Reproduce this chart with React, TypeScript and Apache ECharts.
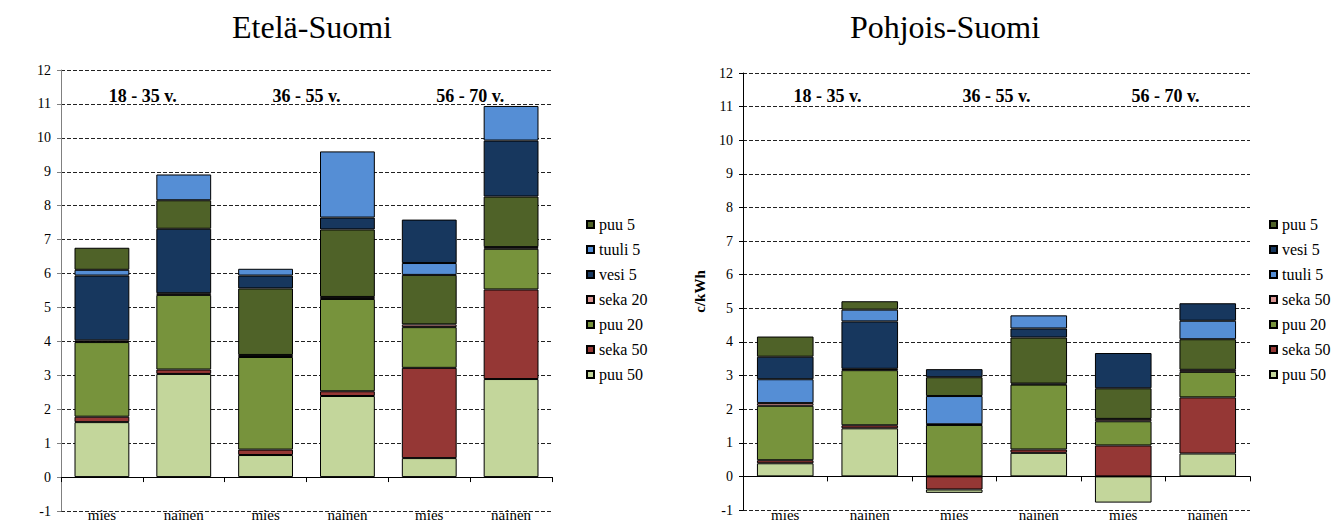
import React, { useEffect, useRef } from "react";
import * as echarts from "echarts";

const categories = ["mies", "nainen", "mies", "nainen", "mies", "nainen"];
const ageGroups = ["18 - 35 v.", "36 - 55 v.", "56 - 70 v."];
const titles = ["Etelä-Suomi", "Pohjois-Suomi"];
const yAxisTitles = ["", "c/kWh"];

const keys = ["puu 50", "seka 50", "puu 20", "seka 20", "vesi 5", "tuuli 5", "puu 5"];
const colors: Record<string, string> = {
  "puu 5": "#4F6228",
  "tuuli 5": "#558ED5",
  "vesi 5": "#17375E",
  "seka 20": "#DA9694",
  "puu 20": "#77933C",
  "seka 50": "#953735",
  "puu 50": "#C3D69B",
};

// Etelä-Suomi values (c/kWh)
const southPuu50 = [1.62, 3.04, 0.65, 2.39, 0.56, 2.89];
const southSeka50 = [0.16, 0.13, 0.16, 0.14, 2.66, 2.64];
const southPuu20 = [2.2, 2.2, 2.73, 2.72, 1.2, 1.2];
const southSeka20 = [0.05, 0.05, 0.06, 0.06, 0.08, 0.05];
const southVesi5 = [1.91, 1.9, 0.38, 0.35, 1.28, 1.65];
const southTuuli5 = [0.17, 0.76, 0.2, 1.95, 0.35, 1.02];
const southPuu5 = [0.65, 0.84, 1.96, 1.99, 1.46, 1.49];

// Pohjois-Suomi values (c/kWh)
const northPuu50 = [0.39, 1.43, -0.1, 0.7, -0.78, 0.68];
const northSeka50 = [0.09, 0.09, -0.39, 0.1, 0.92, 1.67];
const northPuu20 = [1.62, 1.64, 1.53, 1.93, 0.72, 0.76];
const northSeka20 = [0.08, 0.04, 0.02, 0.03, 0.07, 0.06];
const northTuuli5 = [0.71, 0.35, 0.84, 0.39, 0, 0.55];
const northVesi5 = [0.67, 1.41, 0.24, 0.27, 1.05, 0.52];
const northPuu5 = [0.6, 0.25, 0.56, 1.37, 0.91, 0.91];

// stacking order (bottom to top) of each bar
const southOrder = [
  ["puu 50", "seka 50", "puu 20", "seka 20", "vesi 5", "tuuli 5", "puu 5"],
  ["puu 50", "seka 50", "puu 20", "seka 20", "vesi 5", "puu 5", "tuuli 5"],
  ["puu 50", "seka 50", "puu 20", "seka 20", "puu 5", "vesi 5", "tuuli 5"],
  ["puu 50", "seka 50", "puu 20", "seka 20", "puu 5", "vesi 5", "tuuli 5"],
  ["puu 50", "seka 50", "puu 20", "seka 20", "puu 5", "tuuli 5", "vesi 5"],
  ["puu 50", "seka 50", "puu 20", "seka 20", "puu 5", "vesi 5", "tuuli 5"],
];
const northOrder = [
  ["puu 50", "seka 50", "puu 20", "seka 20", "tuuli 5", "vesi 5", "puu 5"],
  ["puu 50", "seka 50", "puu 20", "seka 20", "vesi 5", "tuuli 5", "puu 5"],
  ["seka 50", "puu 50", "puu 20", "seka 20", "tuuli 5", "puu 5", "vesi 5"],
  ["puu 50", "seka 50", "puu 20", "seka 20", "puu 5", "vesi 5", "tuuli 5"],
  ["puu 50", "seka 50", "puu 20", "seka 20", "puu 5", "vesi 5"],
  ["puu 50", "seka 50", "puu 20", "seka 20", "puu 5", "tuuli 5", "vesi 5"],
];

const southLegend = ["puu 5", "tuuli 5", "vesi 5", "seka 20", "puu 20", "seka 50", "puu 50"];
const northLegend = ["puu 5", "vesi 5", "tuuli 5", "seka 20", "puu 20", "seka 50", "puu 50"];
const southLegendLabels: Record<string, string> = {
  "puu 5": "puu 5", "tuuli 5": "tuuli 5", "vesi 5": "vesi 5", "seka 20": "seka 20",
  "puu 20": "puu 20", "seka 50": "seka 50", "puu 50": "puu 50",
};
const northLegendLabels: Record<string, string> = {
  "puu 5": "puu 5", "tuuli 5": "tuuli 5", "vesi 5": "vesi 5", "seka 20": "seka 50",
  "puu 20": "puu 20", "seka 50": "seka 50", "puu 50": "puu 50",
};

const FONT = "Liberation Serif";

function buildSeries(values: Record<string, number[]>, order: string[][], idx: number) {
  const out: any[] = [];
  for (let layer = 0; layer < 7; layer++) {
    for (const key of keys) {
      const data = categories.map((_, i) =>
        order[i][layer] === key ? values[key][i] : "-"
      );
      if (data.every((d) => d === "-")) continue;
      out.push({
        type: "bar",
        name: key,
        stack: "s" + idx,
        xAxisIndex: idx,
        yAxisIndex: idx,
        barCategoryGap: "33%",
        data,
        itemStyle: { color: colors[key], borderColor: "#000", borderWidth: 1 },
        emphasis: { disabled: true },
      });
    }
  }
  return out;
}

export default function App() {
  const ref = useRef<HTMLDivElement>(null);
  useEffect(() => {
    if (!ref.current) return;
    const chart = echarts.init(ref.current, undefined, { renderer: "svg" });
    const southValues: Record<string, number[]> = {
      "puu 50": southPuu50, "seka 50": southSeka50, "puu 20": southPuu20, "seka 20": southSeka20,
      "vesi 5": southVesi5, "tuuli 5": southTuuli5, "puu 5": southPuu5,
    };
    const northValues: Record<string, number[]> = {
      "puu 50": northPuu50, "seka 50": northSeka50, "puu 20": northPuu20, "seka 20": northSeka20,
      "vesi 5": northVesi5, "tuuli 5": northTuuli5, "puu 5": northPuu5,
    };
    const grids = [
      { left: 61, top: 70, width: 491, height: 441, containLabel: false, outerBoundsMode: "none" },
      { left: 743, top: 73, width: 507, height: 437, containLabel: false, outerBoundsMode: "none" },
    ];
    const titleCenters = [312, 945];
    const axisLineColors = ["#808080", "#000"];
    const groupMargins = [17, 14];
    const labelMargins = [-4, -3];
    const xAxes: any[] = [];
    const yAxes: any[] = [];
    [0, 1].forEach((g) => {
      xAxes.push({
        type: "category",
        gridIndex: g,
        data: categories,
        axisLine: { onZero: true, lineStyle: { color: "#000", width: 1 } },
        axisTick: { show: true, length: 5, lineStyle: { color: "#000" } },
        axisLabel: {
          margin: labelMargins[g],
          fontSize: 15,
          lineHeight: 15,
          fontFamily: FONT,
          color: "#000",
        },
        splitLine: { show: false },
      });
      yAxes.push({
        type: "value",
        gridIndex: g,
        min: -1,
        max: 12,
        interval: 1,
        name: yAxisTitles[g],
        nameLocation: "middle",
        nameGap: 36,
        nameRotate: 90,
        nameTextStyle: { fontFamily: FONT, fontWeight: "bold", fontSize: 15, color: "#000" },
        axisLine: { show: true, lineStyle: { color: axisLineColors[g], width: 1 } },
        axisTick: { show: true, length: 4, lineStyle: { color: axisLineColors[g] } },
        axisLabel: { margin: 10, fontSize: 14, fontFamily: FONT, color: "#000" },
        splitLine: { show: true, lineStyle: { color: "#222", type: [4, 2], width: 1 } },
      });
    });
    [0, 1].forEach((g) => {
      xAxes.push({
        type: "category",
        gridIndex: g,
        position: "top",
        data: ageGroups,
        axisLine: { show: false },
        axisTick: { show: false },
        splitLine: { show: false },
        axisLabel: {
          inside: true,
          margin: groupMargins[g],
          fontSize: 18,
          fontWeight: "bold",
          fontFamily: FONT,
          color: "#000",
        },
      });
    });
    const legendCommon = {
      orient: "vertical",
      itemWidth: 7,
      itemHeight: 7,
      itemGap: 8,
      padding: 0,
      icon: "rect",
      selectedMode: false,
      textStyle: { fontFamily: FONT, fontSize: 16, color: "#000", lineHeight: 17 },
    };
    chart.setOption({
      animation: false,
      backgroundColor: "#fff",
      textStyle: { fontFamily: FONT },
      title: titles.map((t, i) => ({
        text: t,
        left: titleCenters[i],
        top: 11,
        textAlign: "center",
        padding: 0,
        textStyle: { fontFamily: FONT, fontSize: 32, fontWeight: "normal", color: "#000" },
      })),
      grid: grids,
      xAxis: xAxes,
      yAxis: yAxes,
      legend: [
        { ...legendCommon, left: 586, top: 216, data: southLegend, formatter: (n: string) => southLegendLabels[n] },
        { ...legendCommon, left: 1269, top: 216, data: northLegend, formatter: (n: string) => northLegendLabels[n] },
      ],
      series: [
        ...buildSeries(southValues, southOrder, 0),
        ...buildSeries(northValues, northOrder, 1),
      ],
    });
    return () => chart.dispose();
  }, []);
  return (
    <div
      ref={ref}
      style={{ position: "fixed", left: 0, top: 0, width: 1332, height: 523, background: "#fff" }}
    />
  );
}
